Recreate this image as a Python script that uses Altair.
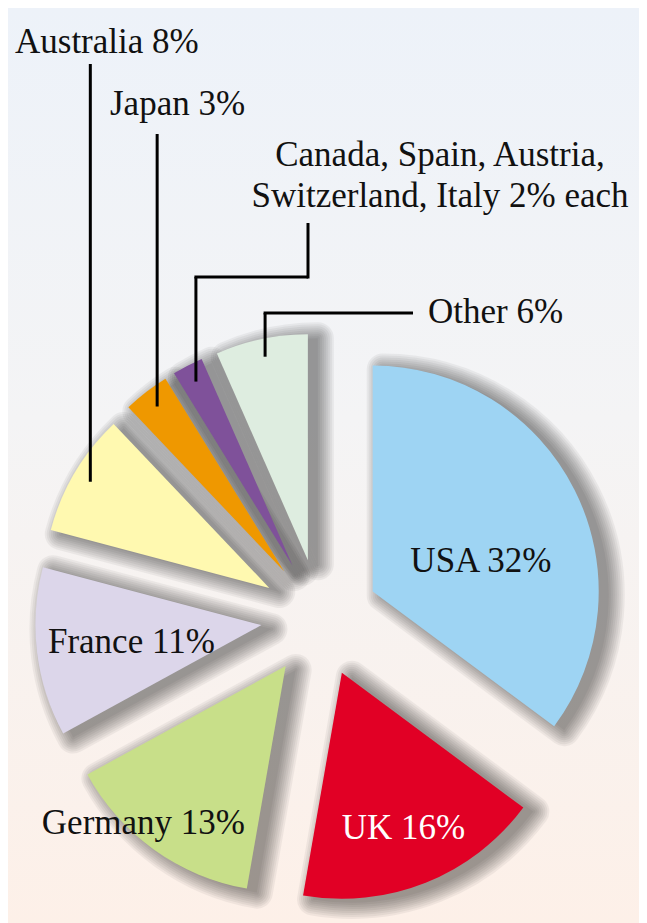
import altair as alt
import pandas as pd

# ---- data ----
countries = ["USA", "UK", "Germany", "France", "Australia", "Japan",
             "Canada, Spain, Austria, Switzerland, Italy", "Other"]
shares = [32, 16, 13, 11, 8, 3, 2, 6]
labels = ["USA 32%", "UK 16%", "Germany 13%", "France 11%", "Australia 8%",
          "Japan 3%", "Canada, Spain, Austria,\nSwitzerland, Italy 2% each", "Other 6%"]
colors = ["#9ED4F3", "#E10025", "#C8DF89", "#DCD6EA", "#FFF9B0",
          "#EF9800", "#7F519A", "#DEEDE0"]

df = pd.DataFrame({"country": countries, "share": shares, "label": labels,
                   "order": list(range(len(countries)))})

# ---- layout ----
W, H = 631, 915
CX, CY = 312, 610      # pie centre (px)
D = 59                 # explode distance
R = 226                # slice radius
FONT = "Liberation Serif"
FS = 35

base = (
    alt.Chart(df)
    .transform_window(cum="sum(share)", sort=[alt.SortField("order")], frame=[None, 0])
    .transform_joinaggregate(total="sum(share)")
    .transform_calculate(t0="2*PI*(datum.cum - datum.share)/datum.total")
    .transform_calculate(t1="2*PI*datum.cum/datum.total")
    .transform_calculate(tm="(datum.t0 + datum.t1)/2")
    .transform_calculate(ax=f"{CX} + {D}*sin(datum.tm)")
    .transform_calculate(ay=f"{CY} - {D}*cos(datum.tm)")
)

pos = dict(x=alt.X("ax:Q", scale=None, axis=None),
           y=alt.Y("ay:Q", scale=None, axis=None),
           theta=alt.Theta("t0:Q", scale=None, stack=None),
           theta2=alt.Theta2("t1:Q"))

background = alt.Chart(pd.DataFrame({"bg": [0]})).mark_rect(
    color=alt.Gradient(
        gradient="linear",
        stops=[alt.GradientStop(color="#EDF2F9", offset=0),
               alt.GradientStop(color="#F4F4F5", offset=0.45),
               alt.GradientStop(color="#FDF0E8", offset=1)],
        x1=0, x2=0, y1=0, y2=1)
).encode(x=alt.value(0), x2=alt.value(W), y=alt.value(0), y2=alt.value(H))

# soft drop shadows: stacked dilated copies (fill+stroke composited with element opacity)
shadows = []
for k in range(0, 18, 2):
    props = dict(outerRadius=R, fill="#000", opacity=0.047)
    if k > 0:
        props.update(stroke="#000", strokeWidth=2 * k, strokeJoin="round")
    shadows.append(
        base.transform_calculate(sx="datum.ax + 10", sy="datum.ay + 4")
        .mark_arc(**props)
        .encode(x=alt.X("sx:Q", scale=None, axis=None),
                y=alt.Y("sy:Q", scale=None, axis=None),
                theta=alt.Theta("t0:Q", scale=None, stack=None),
                theta2=alt.Theta2("t1:Q"))
    )

slices = base.mark_arc(outerRadius=R).encode(
    **pos,
    color=alt.Color("country:N", scale=alt.Scale(domain=countries, range=colors), legend=None),
)

# labels inside slices: (country, radius along bisector, dx, dy, colour)
inner_specs = [("USA", 111, 9, 30, "#111"), ("UK", 166, 0, 12, "#fff"),
               ("Germany", 210, -20, -3, "#111"), ("France", 131, 0, 12, "#111")]
inner = []
for c, r, dx, dy, col in inner_specs:
    inner.append(
        base.transform_filter(alt.datum.country == c)
        .transform_calculate(lx=f"datum.ax + {r}*sin(datum.tm)",
                             ly=f"datum.ay - {r}*cos(datum.tm)")
        .mark_text(font=FONT, fontSize=FS, align="center", baseline="alphabetic",
                   dx=dx, dy=dy, color=col)
        .encode(x=alt.X("lx:Q", scale=None, axis=None),
                y=alt.Y("ly:Q", scale=None, axis=None), text="label:N")
    )

# callouts for the small slices
def anchor(c):
    return (base.transform_filter(alt.datum.country == c)
            .transform_calculate(px="datum.ax + 208*sin(datum.tm)",
                                 py="datum.ay - 208*cos(datum.tm)"))

def seg(ch, x1, y1, x2, y2):
    return (ch.transform_calculate(x1=x1, y1=y1, x2=x2, y2=y2)
            .mark_rule(color="#000", strokeWidth=3)
            .encode(x=alt.X("x1:Q", scale=None, axis=None),
                    y=alt.Y("y1:Q", scale=None, axis=None),
                    x2="x2:Q", y2="y2:Q"))

def callout_text(c, x, y, align):
    return (base.transform_filter(alt.datum.country == c)
            .mark_text(font=FONT, fontSize=FS, align=align, baseline="alphabetic",
                       lineBreak="\n", lineHeight=41, color="#111")
            .encode(x=alt.value(x), y=alt.value(y), text="label:N"))

aus = anchor("Australia")
jap = anchor("Japan")
can = anchor(countries[6])
oth = anchor("Other")

leaders = [
    seg(aus, "datum.px", "datum.py", "datum.px", "56"),
    seg(jap, "datum.px", "datum.py", "datum.px", "126"),
    seg(can, "datum.px", "datum.py", "datum.px", "269"),
    seg(can, "datum.px - 1.5", "269", "300", "269"),
    seg(can, "300", "270.5", "300", "215"),
    seg(oth, "datum.px", "datum.py", "datum.px", "305"),
    seg(oth, "datum.px - 1.5", "305", "405", "305"),
]

texts = [
    callout_text("Australia", 7, 45, "left"),
    callout_text("Japan", 102, 107, "left"),
    callout_text(countries[6], 432, 158, "center"),
    callout_text("Other", 420, 315, "left"),
]

chart = alt.layer(background, *shadows, slices, *leaders, *inner, *texts).properties(
    width=W, height=H, padding=0, autosize=alt.AutoSizeParams(type="none"),
    background="#FDF0E8",
).configure_view(strokeWidth=0)

chart.save("out.html", embed_options={"renderer": "svg", "actions": False})
